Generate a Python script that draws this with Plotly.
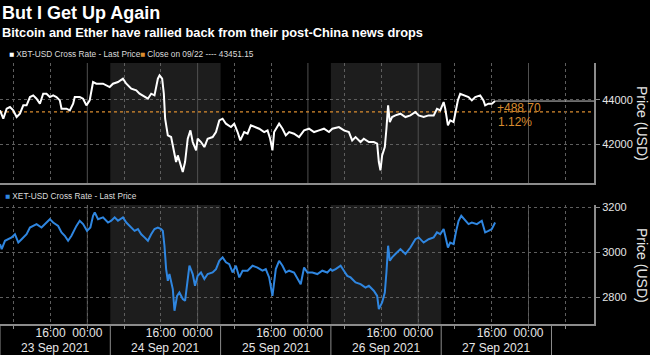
import pandas as pd
import plotly.graph_objects as go

# ---------------- data ----------------
START = pd.Timestamp("2021-09-23 05:00")
X_START = "2021-09-23 05:00"
X_END = "2021-09-28 14:15"

# XBT-USD (hours since 23 Sep 05:00, price)
xbt_hours = [0.0, 0.72, 1.45, 2.17, 2.89, 3.62, 4.34, 5.06, 5.78, 6.51, 7.23, 7.95, 8.68, 9.40, 10.12,
             10.85, 11.57, 12.29, 13.02, 13.38, 14.46, 15.18, 15.91, 16.27, 17.35, 18.08, 18.80, 19.52, 20.25, 20.97,
             22.42, 23.86, 24.58, 25.67, 26.75, 27.48, 28.56, 29.65, 30.37, 31.45, 32.18, 32.90, 33.62, 34.35, 34.71,
             35.29, 35.65, 35.94, 36.51,
             37.24, 37.96, 38.32, 38.68, 39.26, 39.77, 40.27, 40.85, 41.43, 41.94, 42.66, 43.02, 43.74, 44.47, 45.19,
             46.27, 47.00, 47.72, 48.44, 49.17, 50.25, 50.97, 51.70, 52.28, 53.14, 53.87, 54.59, 55.67, 56.40, 57.48,
             58.21, 58.78, 59.29, 59.65, 60.74, 61.46, 62.18, 62.91, 63.99, 65.07, 66.16, 67.24, 68.33, 69.41, 70.50,
             71.58, 72.30,
             73.75, 74.83, 75.92, 76.64, 77.36, 78.45, 79.17, 80.26, 81.34, 82.06, 82.43, 82.79, 83.15, 83.73, 84.09,
             84.45, 84.81, 85.32, 86.04, 87.13, 88.21, 89.30, 90.38, 91.10, 92.19, 93.27, 94.36, 95.08, 95.80, 96.53,
             96.89, 97.47, 97.97, 98.70, 99.27, 99.64, 100.14, 100.86, 101.95, 102.67, 103.40, 104.48, 105.20, 105.56,
             106.29, 107.01, 107.73]
xbt_price = [43522, 43148, 43596, 43671, 43522, 43223, 43372, 43746, 43746, 44120, 44194, 44045, 43821, 44269, 44269,
             44120, 44194, 44120, 43970, 43596, 43596, 43522, 43821, 44120, 44120, 44045, 43746, 43970, 44792, 44718,
             44718, 44568, 44718, 44792, 44942, 44718, 44493, 44419, 44269, 44120, 44045, 44269, 44194, 44942, 45091,
             44942, 44269, 43148, 42400,
             42326, 41653, 41204, 41504, 41130, 40756, 41204, 42251, 42625, 42101, 41728, 42251, 42101, 41877, 42251,
             42326, 42550, 43073, 43148, 42924, 42774, 42924, 42550, 42176, 42550, 42475, 42849, 42774, 42699, 42550,
             42625, 42251, 41728, 42550, 42924, 42699, 42400, 42550, 42475, 42326, 42625, 42699, 42550, 42625, 42699,
             42550, 42699,
             42774, 42625, 42550, 42176, 42326, 42101, 42251, 42101, 42101, 42027, 41204, 40830, 41504, 41877, 42699,
             43746, 42998, 43223, 43297, 43372, 43223, 43297, 43447, 43297, 43223, 43297, 43297, 43596, 43522, 43895,
             43596, 42849, 43073, 42998, 43596, 43970, 44269, 44194, 44120, 43970, 44120, 44194, 43970, 43746,
             43821, 43821, 43940]

# XET-USD (hours since 23 Sep 05:00, price)
xet_hours = [0.0, 0.36, 1.08, 1.81, 2.53, 3.25, 3.98, 4.70, 5.78, 6.51, 7.23, 7.95, 9.04, 10.12, 10.85,
             11.57, 12.65, 13.38, 14.10, 14.82, 15.55, 16.63, 17.35, 18.08, 18.94, 19.67, 20.25, 20.61, 21.33, 22.42,
             23.50, 24.22, 24.95, 25.67, 26.75, 27.48, 28.56, 29.28, 30.01, 30.73, 31.45, 32.18, 32.90, 33.62, 34.35,
             35.07, 35.43, 35.79, 36.15, 36.51,
             36.87, 37.60, 37.96, 38.54, 39.04, 39.77, 40.27, 40.85, 41.21, 41.94, 42.44, 43.02, 43.74, 44.47, 45.19,
             46.27, 47.00, 47.72, 48.44, 49.17, 49.89, 50.61, 51.34, 52.06, 52.78, 53.87, 54.95, 56.04, 57.12, 57.84,
             58.57, 59.29, 60.01, 60.74, 61.46, 62.18, 62.91, 63.99, 65.07, 65.44, 66.16, 66.88, 67.97, 69.05, 70.14,
             71.22, 71.94,
             72.30, 73.03, 74.11, 74.83, 75.56, 76.28, 77.36, 78.45, 79.53, 80.26, 81.34, 82.06, 82.43, 83.15, 83.73,
             84.09, 84.45, 84.81, 85.32, 86.04, 87.13, 88.21, 89.30, 90.38, 91.10, 92.19, 93.27, 94.36, 95.08, 95.80,
             96.53, 96.89, 97.47, 97.97, 98.70, 99.27, 99.78, 100.36, 101.23, 101.95, 102.67, 103.76, 104.84, 105.20,
             105.56, 106.29, 107.01, 107.73]
xet_price = [3037, 3015, 3052, 3059, 3067, 3081, 3044, 3059, 3081, 3111, 3118, 3126, 3111, 3133, 3148,
             3133, 3118, 3089, 3074, 3052, 3074, 3118, 3141, 3126, 3096, 3111, 3163, 3178, 3148, 3156,
             3133, 3141, 3156, 3141, 3156, 3133, 3111, 3096, 3104, 3081, 3067, 3052, 3081, 3104, 3111,
             3104, 3096, 3030, 2926, 2874,
             2904, 2837, 2741, 2807, 2822, 2793, 2785, 2882, 2941, 2904, 2852, 2896, 2911, 2882, 2904,
             2911, 2926, 2963, 2978, 2956, 2948, 2911, 2941, 2889, 2919, 2919, 2941, 2933, 2919, 2926,
             2889, 2807, 2926, 2963, 2941, 2911, 2919, 2911, 2867, 2859, 2933, 2911, 2911, 2904, 2919,
             2911, 2926,
             2919, 2926, 2941, 2919, 2896, 2889, 2867, 2859, 2844, 2852, 2830, 2807, 2748, 2778, 2822,
             2911, 3030, 2963, 2978, 2993, 3015, 2993, 3022, 3059, 3067, 3044, 3059, 3067, 3089, 3081,
             3104, 3074, 3022, 3044, 3037, 3096, 3141, 3163, 3141, 3126, 3133, 3126, 3141, 3118,
             3089, 3096, 3104, 3133]

close_0922 = 43451.15
last_price = 43939.85
change_abs = "+488.70"
change_pct = "1.12%"

tick_times = ["2021-09-23 16:00", "2021-09-24 00:00", "2021-09-24 16:00", "2021-09-25 00:00",
              "2021-09-25 16:00", "2021-09-26 00:00", "2021-09-26 16:00", "2021-09-27 00:00",
              "2021-09-27 16:00", "2021-09-28 00:00"]
tick_text = ["16:00", "00:00"] * 5
midnights = ["2021-09-24 00:00", "2021-09-25 00:00", "2021-09-26 00:00", "2021-09-27 00:00", "2021-09-28 00:00"]
session_starts = ["2021-09-23 05:00", "2021-09-24 05:00", "2021-09-25 05:00", "2021-09-26 05:00",
                  "2021-09-27 05:00", "2021-09-28 05:00"]
shaded_sessions = [("2021-09-24 05:00", "2021-09-25 05:00"), ("2021-09-26 05:00", "2021-09-27 05:00")]
date_label_times = ["2021-09-23 17:00", "2021-09-24 17:00", "2021-09-25 17:00", "2021-09-26 17:00", "2021-09-27 17:00"]
date_labels = ["23 Sep 2021", "24 Sep 2021", "25 Sep 2021", "26 Sep 2021", "27 Sep 2021"]


def to_time(hours):
    return [(START + pd.Timedelta(minutes=round(h * 60))).strftime("%Y-%m-%d %H:%M") for h in hours]


xbt_time = to_time(xbt_hours)
xet_time = to_time(xet_hours)

# ---------------- style ----------------
FONT = "Liberation Sans, Arial, sans-serif"
GRID = "#5e5e5e"
AXIS = "#8c8c8c"
TXT = "#e6e6e6"
ORANGE = "#d98c2f"
BLUE = "#2f86e0"
SHADE = "#1d1d1d"

W, H = 650, 355
ML, MR, MT, MB = 0, 56, 63, 31
PH = H - MT - MB  # plot height


def py(px):  # screen y pixel -> paper y
    return (H - MB - px) / PH


def px_(x):  # screen x pixel -> paper x
    return (x - ML) / (W - ML - MR)


fig = go.Figure()
fig.add_trace(go.Scatter(x=xbt_time, y=xbt_price, mode="lines", xaxis="x", yaxis="y",
                         line=dict(color="#ffffff", width=2), showlegend=False, hoverinfo="skip"))
fig.add_trace(go.Scatter(x=xet_time, y=xet_price, mode="lines", xaxis="x2", yaxis="y2",
                         line=dict(color=BLUE, width=2), showlegend=False, hoverinfo="skip"))

minor_grid = dict(dtick=8 * 3600 * 1000, tick0="2021-09-23 00:00", showgrid=True,
                  griddash="dot", gridcolor=GRID, gridwidth=1)

fig.update_layout(
    width=W, height=H, autosize=False,
    margin=dict(l=ML, r=MR, t=MT, b=MB, autoexpand=False),
    paper_bgcolor="#000000", plot_bgcolor="#000000",
    font=dict(family=FONT, color=TXT, size=12),
    xaxis=dict(type="date", range=[X_START, X_END], domain=[0, 1], anchor="y",
               showgrid=False, zeroline=False, showticklabels=False, ticks="",
               minor=dict(**minor_grid),
               showline=True, linecolor=AXIS, linewidth=2),
    xaxis2=dict(type="date", range=[X_START, X_END], domain=[0, 1], anchor="y2",
                showgrid=False, zeroline=False, tickmode="array", tickvals=tick_times, ticktext=tick_text,
                ticks="", ticklabelstandoff=-3,
                minor=dict(**minor_grid, ticks="outside", ticklen=3, tickcolor=AXIS),
                tickfont=dict(size=12, color=TXT),
                showline=True, linecolor=AXIS, linewidth=2),
    yaxis=dict(domain=[py(183), 1], anchor="x", side="right", range=[40265, 45646],
               tickmode="array", tickvals=[42000, 44000], tickformat="d",
               showgrid=True, griddash="dot", gridcolor=GRID, zeroline=False,
               ticks="outside", ticklen=4, tickcolor=AXIS,
               showline=True, linecolor=AXIS, linewidth=2, tickfont=dict(size=11, color=TXT)),
    yaxis2=dict(domain=[0, py(205)], anchor="x2", side="right", range=[2682, 3211],
                tickmode="array", tickvals=[2800, 3000, 3200], tickformat="d",
                showgrid=True, griddash="dot", gridcolor=GRID, zeroline=False,
                ticks="outside", ticklen=4, tickcolor=AXIS,
                showline=True, linecolor=AXIS, linewidth=2, tickfont=dict(size=11, color=TXT)),
)

shapes = []
for x0, x1 in shaded_sessions:
    for xr, yr in (("x", "y domain"), ("x2", "y2 domain")):
        shapes.append(dict(type="rect", xref=xr, yref=yr, x0=x0, x1=x1, y0=0, y1=1,
                           fillcolor=SHADE, line=dict(width=0), layer="below"))
for m in midnights:
    for xr, yr in (("x", "y domain"), ("x2", "y2 domain")):
        shapes.append(dict(type="line", xref=xr, yref=yr, x0=m, x1=m, y0=0, y1=1,
                           line=dict(color="#505050", width=1), layer="below"))
for s in session_starts:
    shapes.append(dict(type="line", xref="x2", yref="paper", x0=s, x1=s, y0=0, y1=py(H),
                       line=dict(color=AXIS, width=1)))
shapes.append(dict(type="line", xref="paper", yref="y", x0=0, x1=1, y0=close_0922, y1=close_0922,
                   line=dict(color=ORANGE, width=1.2, dash="dot"), layer="below"))
shapes.append(dict(type="line", xref="x", yref="y", x0=xbt_time[-1], x1=X_END, y0=last_price, y1=last_price,
                   line=dict(color="#c8c8c8", width=1)))
fig.update_layout(shapes=shapes)

ann = []
ann.append(dict(text="<b>But I Get Up Again</b>", xref="paper", yref="paper", x=px_(0), y=py(13),
                xanchor="left", yanchor="middle", showarrow=False,
                font=dict(size=18, color="#ffffff", family=FONT)))
ann.append(dict(text="<b>Bitcoin and Ether have rallied back from their post-China news drops</b>",
                xref="paper", yref="paper", x=px_(0), y=py(33), xanchor="left", yanchor="middle",
                showarrow=False, font=dict(size=12.8, color="#ffffff", family=FONT)))
ann.append(dict(text='<span style="color:#ffffff">■</span> XBT-USD Cross Rate - Last Price',
                xref="paper", yref="paper", x=px_(7), y=py(54), xanchor="left", yanchor="middle",
                showarrow=False, font=dict(size=8.3, color="#dcdcdc", family=FONT)))
ann.append(dict(text='<span style="color:%s">■</span> Close on 09/22 ---- 43451.15' % ORANGE,
                xref="paper", yref="paper", x=px_(138), y=py(54), xanchor="left", yanchor="middle",
                showarrow=False, font=dict(size=8.3, color="#dcdcdc", family=FONT)))
ann.append(dict(text='<span style="color:%s">■</span> XET-USD Cross Rate - Last Price' % BLUE,
                xref="paper", yref="paper", x=px_(3), y=py(196), xanchor="left", yanchor="middle",
                showarrow=False, font=dict(size=8.3, color="#dcdcdc", family=FONT)))
for yy in (123, 265):
    ann.append(dict(text="Price (USD)", xref="paper", yref="paper", x=px_(642), y=py(yy),
                    xanchor="center", yanchor="middle", textangle=90, showarrow=False,
                    font=dict(size=14, color=TXT, family=FONT)))
ann.append(dict(text=change_abs, xref="x", yref="paper", x=xbt_time[-1], y=py(108),
                xanchor="left", yanchor="middle", showarrow=False,
                font=dict(size=12, color=ORANGE, family=FONT)))
ann.append(dict(text=change_pct, xref="x", yref="paper", x=xbt_time[-1], y=py(122),
                xanchor="left", yanchor="middle", showarrow=False, xshift=1,
                font=dict(size=12, color=ORANGE, family=FONT)))
for t, lab in zip(date_label_times, date_labels):
    ann.append(dict(text=lab, xref="x2", yref="paper", x=t, y=py(347.5), xanchor="center", yanchor="middle",
                    showarrow=False, font=dict(size=12, color=TXT, family=FONT)))
fig.update_layout(annotations=ann)

fig.write_html("out.html", config={"displayModeBar": False},
               post_script="document.body.style.margin='0';document.body.style.background='#000';")
